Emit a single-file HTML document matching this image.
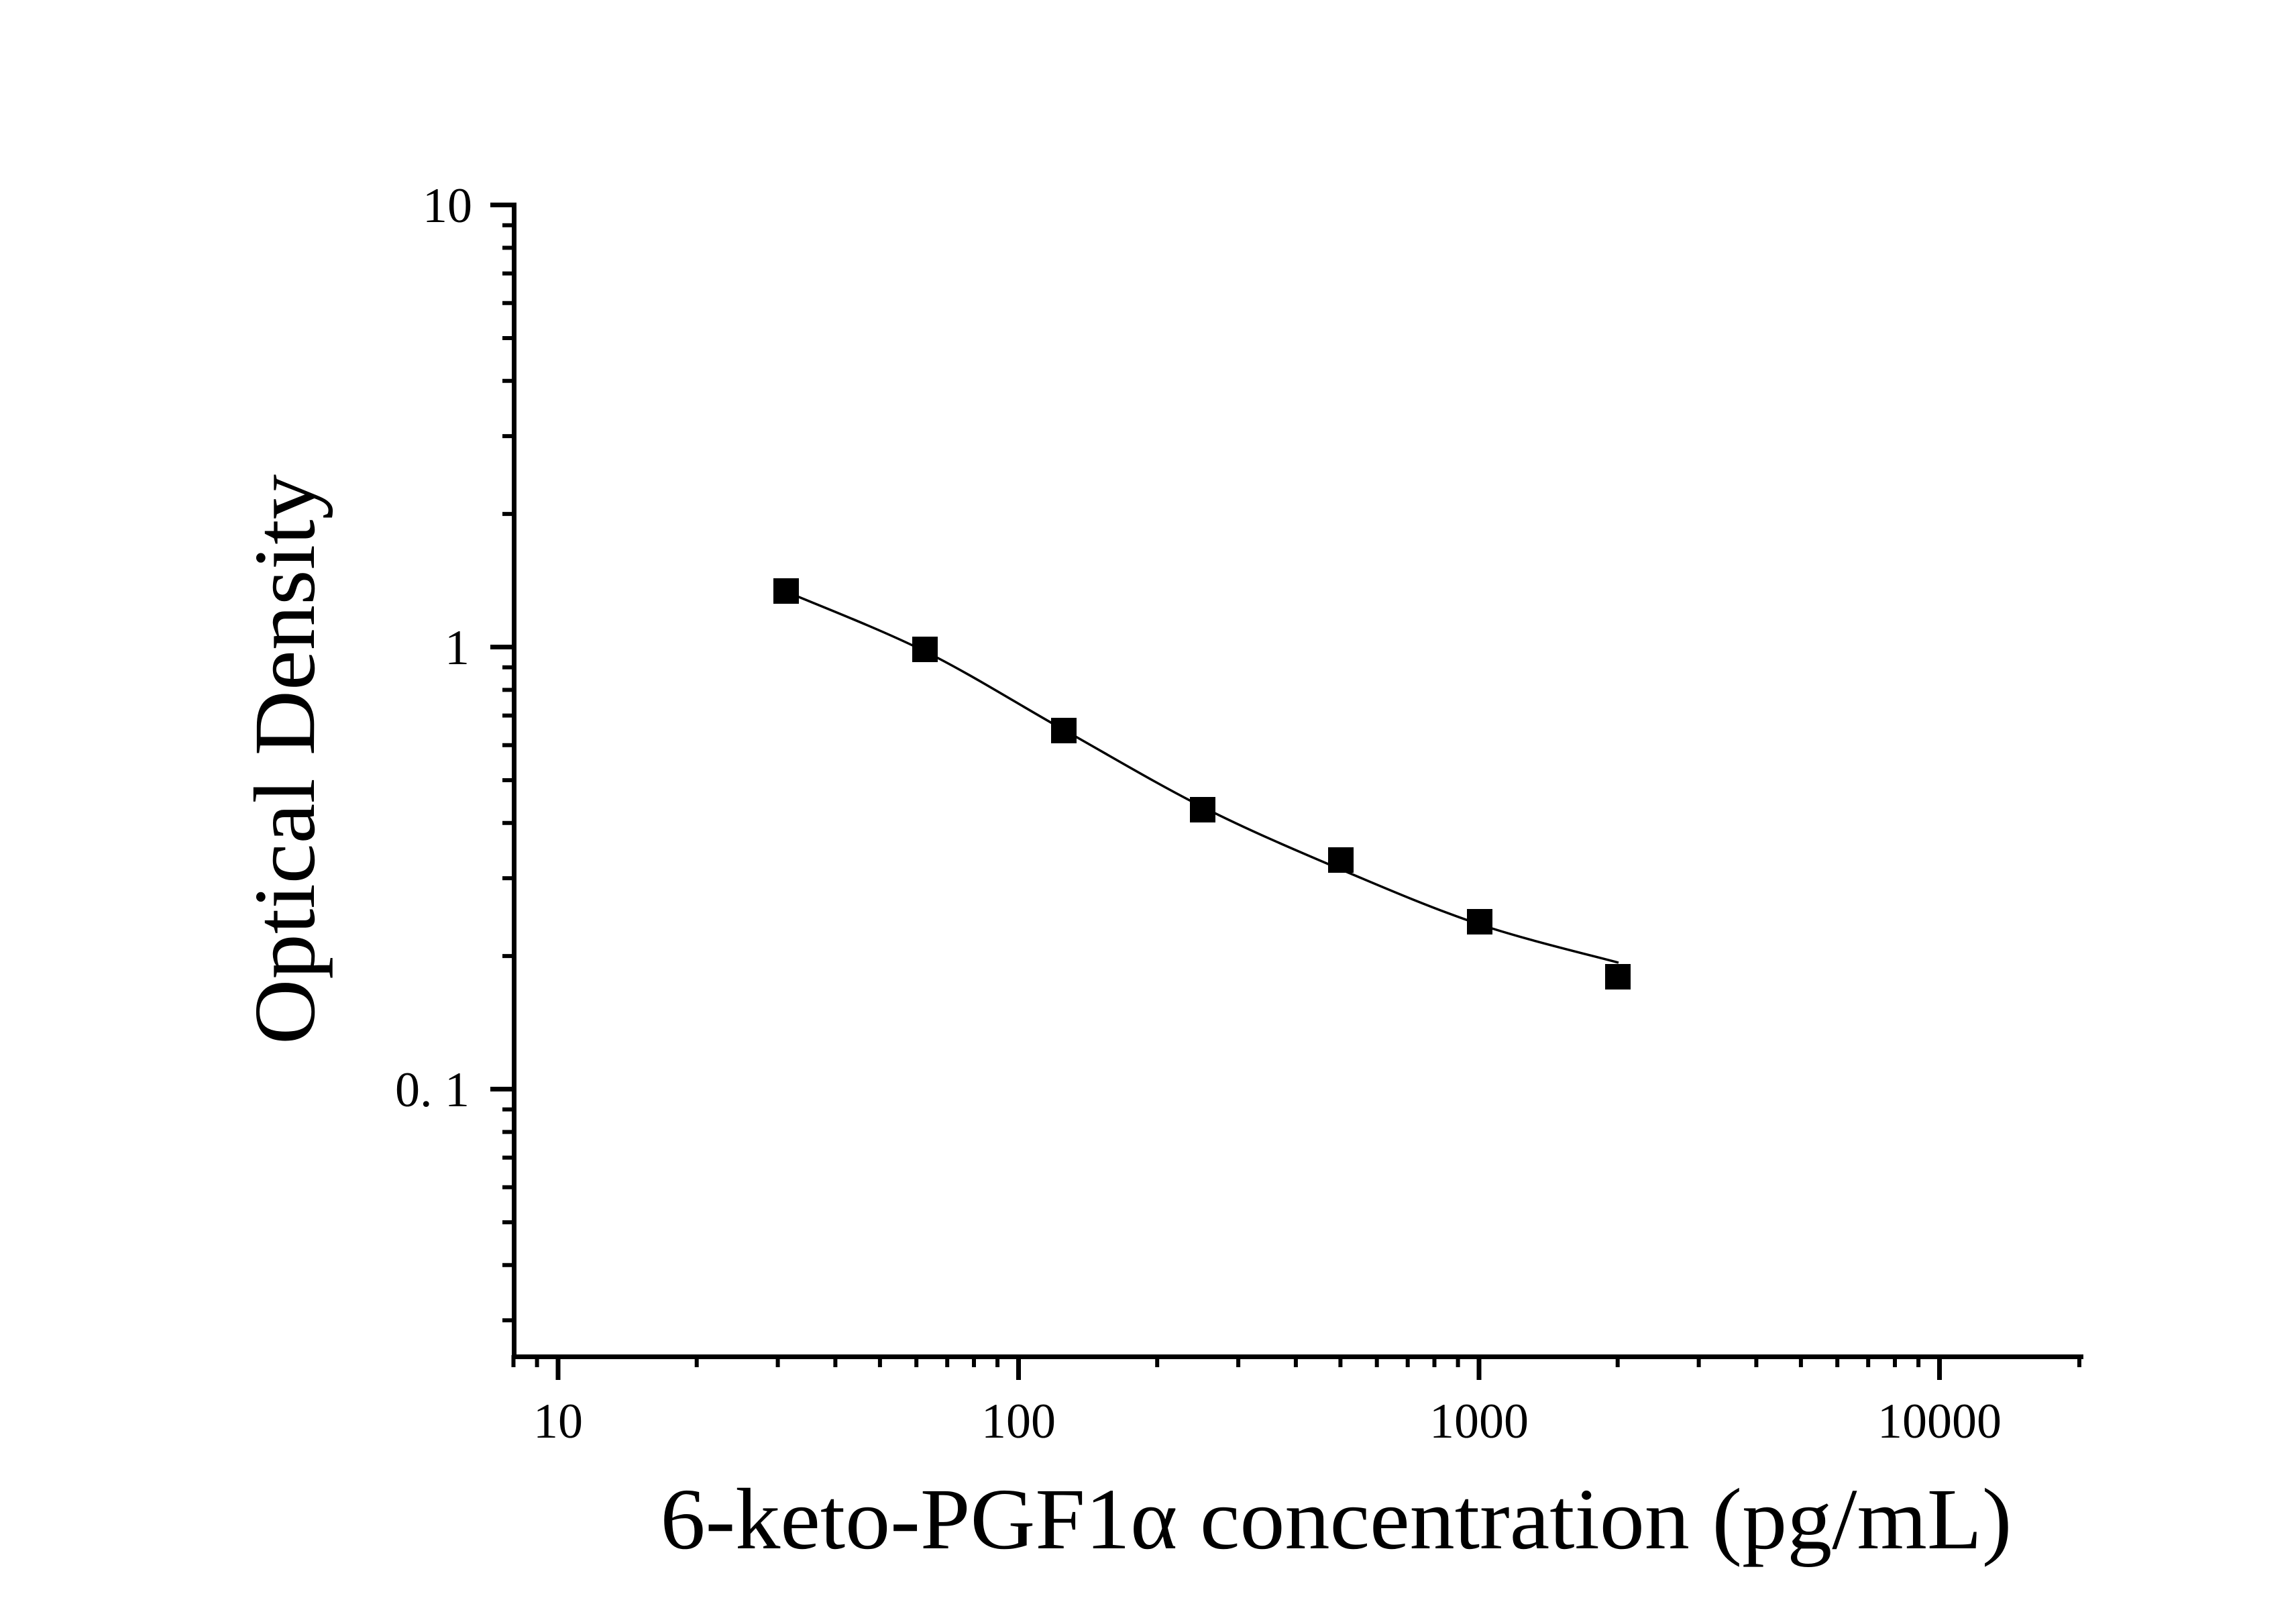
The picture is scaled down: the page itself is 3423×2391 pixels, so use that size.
<!DOCTYPE html>
<html><head><meta charset="utf-8"><style>html,body{margin:0;padding:0;background:#fff}svg{display:block}</style></head>
<body>
<svg width="3423" height="2391" viewBox="0 0 3423 2391" xmlns="http://www.w3.org/2000/svg" font-family="'Liberation Serif', serif">
<rect width="3423" height="2391" fill="#fff"/>
<g stroke="#000" fill="none">
<line x1="766.5" y1="302" x2="766.5" y2="2026" stroke-width="7"/>
<line x1="763" y1="2022.5" x2="3106" y2="2022.5" stroke-width="7"/>
<line x1="731" y1="305.5" x2="766" y2="305.5" stroke-width="7"/>
<line x1="731" y1="964.5" x2="766" y2="964.5" stroke-width="7"/>
<line x1="731" y1="1623.5" x2="766" y2="1623.5" stroke-width="7"/>
<g stroke-width="6">
<line x1="749" y1="335.7" x2="766" y2="335.7"/>
<line x1="749" y1="369.4" x2="766" y2="369.4"/>
<line x1="749" y1="407.6" x2="766" y2="407.6"/>
<line x1="749" y1="451.8" x2="766" y2="451.8"/>
<line x1="749" y1="504.0" x2="766" y2="504.0"/>
<line x1="749" y1="567.8" x2="766" y2="567.8"/>
<line x1="749" y1="650.1" x2="766" y2="650.1"/>
<line x1="749" y1="766.1" x2="766" y2="766.1"/>
<line x1="749" y1="994.7" x2="766" y2="994.7"/>
<line x1="749" y1="1028.4" x2="766" y2="1028.4"/>
<line x1="749" y1="1066.6" x2="766" y2="1066.6"/>
<line x1="749" y1="1110.8" x2="766" y2="1110.8"/>
<line x1="749" y1="1163.0" x2="766" y2="1163.0"/>
<line x1="749" y1="1226.8" x2="766" y2="1226.8"/>
<line x1="749" y1="1309.1" x2="766" y2="1309.1"/>
<line x1="749" y1="1425.1" x2="766" y2="1425.1"/>
<line x1="749" y1="1653.7" x2="766" y2="1653.7"/>
<line x1="749" y1="1687.4" x2="766" y2="1687.4"/>
<line x1="749" y1="1725.6" x2="766" y2="1725.6"/>
<line x1="749" y1="1769.8" x2="766" y2="1769.8"/>
<line x1="749" y1="1822.0" x2="766" y2="1822.0"/>
<line x1="749" y1="1885.8" x2="766" y2="1885.8"/>
<line x1="749" y1="1968.1" x2="766" y2="1968.1"/>
</g>
<g stroke-width="7">
<line x1="832" y1="2020" x2="832" y2="2057"/>
<line x1="1518.5" y1="2020" x2="1518.5" y2="2057"/>
<line x1="2205" y1="2020" x2="2205" y2="2057"/>
<line x1="2891.5" y1="2020" x2="2891.5" y2="2057"/>
</g>
<g stroke-width="6">
<line x1="765.5" y1="2020" x2="765.5" y2="2038"/>
<line x1="800.6" y1="2020" x2="800.6" y2="2038"/>
<line x1="1038.7" y1="2020" x2="1038.7" y2="2038"/>
<line x1="1159.6" y1="2020" x2="1159.6" y2="2038"/>
<line x1="1245.4" y1="2020" x2="1245.4" y2="2038"/>
<line x1="1311.9" y1="2020" x2="1311.9" y2="2038"/>
<line x1="1366.2" y1="2020" x2="1366.2" y2="2038"/>
<line x1="1412.2" y1="2020" x2="1412.2" y2="2038"/>
<line x1="1452.0" y1="2020" x2="1452.0" y2="2038"/>
<line x1="1487.1" y1="2020" x2="1487.1" y2="2038"/>
<line x1="1725.2" y1="2020" x2="1725.2" y2="2038"/>
<line x1="1846.1" y1="2020" x2="1846.1" y2="2038"/>
<line x1="1931.9" y1="2020" x2="1931.9" y2="2038"/>
<line x1="1998.4" y1="2020" x2="1998.4" y2="2038"/>
<line x1="2052.7" y1="2020" x2="2052.7" y2="2038"/>
<line x1="2098.7" y1="2020" x2="2098.7" y2="2038"/>
<line x1="2138.5" y1="2020" x2="2138.5" y2="2038"/>
<line x1="2173.6" y1="2020" x2="2173.6" y2="2038"/>
<line x1="2411.7" y1="2020" x2="2411.7" y2="2038"/>
<line x1="2532.6" y1="2020" x2="2532.6" y2="2038"/>
<line x1="2618.4" y1="2020" x2="2618.4" y2="2038"/>
<line x1="2684.9" y1="2020" x2="2684.9" y2="2038"/>
<line x1="2739.2" y1="2020" x2="2739.2" y2="2038"/>
<line x1="2785.2" y1="2020" x2="2785.2" y2="2038"/>
<line x1="2825.0" y1="2020" x2="2825.0" y2="2038"/>
<line x1="2860.1" y1="2020" x2="2860.1" y2="2038"/>
<line x1="3100" y1="2020" x2="3100" y2="2038"/>
</g>
<path d="M1172,882 C1206.5,896.8 1310,936.7 1379,971 C1448,1005.3 1517,1049.3 1586,1088 C1655,1126.7 1724.2,1168.3 1793,1203 C1861.8,1237.7 1930.2,1266.8 1999,1296 C2067.8,1325.2 2137,1354.8 2206,1378 C2275,1401.2 2378.5,1425.5 2413,1435" stroke-width="3.5"/>
</g>
<g fill="#000">
<rect x="1153" y="862" width="38" height="38"/>
<rect x="1360" y="949" width="38" height="38"/>
<rect x="1567" y="1070" width="38" height="38"/>
<rect x="1774" y="1188" width="38" height="38"/>
<rect x="1980" y="1263" width="38" height="38"/>
<rect x="2187" y="1355" width="38" height="38"/>
<rect x="2393" y="1437" width="38" height="38"/>
</g>
<g font-size="74" fill="#000">
<text x="704" y="331" text-anchor="end">10</text>
<text x="700" y="990" text-anchor="end">1</text>
<text x="700" y="1649" text-anchor="end" xml:space="preserve">0. 1</text>
<text x="832" y="2143" text-anchor="middle">10</text>
<text x="1518.5" y="2143" text-anchor="middle">100</text>
<text x="2205" y="2143" text-anchor="middle">1000</text>
<text x="2891.5" y="2143" text-anchor="middle">10000</text>
</g>
<text x="1992" y="2308" font-size="130" text-anchor="middle" textLength="2015" lengthAdjust="spacingAndGlyphs">6-keto-PGF1α concentration (pg/mL)</text>
<text transform="translate(468,1132) rotate(-90)" font-size="130" text-anchor="middle" textLength="850" lengthAdjust="spacingAndGlyphs">Optical Density</text>
</svg>
</body></html>
